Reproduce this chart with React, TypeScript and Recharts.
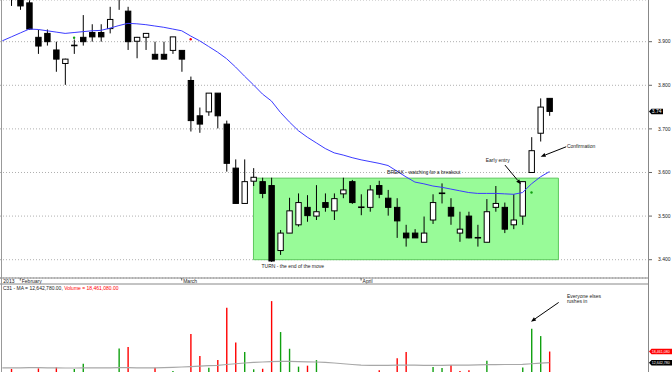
import React from 'react';
import {
  ComposedChart,
  Bar,
  Line,
  XAxis,
  YAxis,
  CartesianGrid,
  ReferenceArea,
  ReferenceLine,
  ReferenceDot,
  Cell,
} from 'recharts';

const FONT = '"Liberation Sans", Arial, sans-serif';
const RED = '#ff0000';
const GREEN = '#10a010';
const TEXT = '#222';

// daily candles, Feb - Apr 2013
const opens = [
  4.02, 4.0, 3.989, 3.91, 3.919, 3.881, 3.85, 3.891, 3.91, 3.921,
  3.921, 3.93, 4.0, 3.97, 3.901, 3.91, 3.871, 3.871, 3.88, 3.88,
  3.811, 3.73, 3.739, 3.782, 3.711, 3.61, 3.529, 3.58, 3.579, 3.57,
  3.421, 3.461, 3.48, 3.52, 3.5, 3.531, 3.512, 3.551, 3.579, 3.52,
  3.52, 3.57, 3.541, 3.52, 3.461, 3.461, 3.44, 3.491, 3.552, 3.52,
  3.461, 3.5, 3.45, 3.44, 3.52, 3.52, 3.48, 3.5, 3.6, 3.69, 3.77,
];
const highs = [
  4.03, 4.01, 3.995, 3.927, 3.928, 3.9, 3.861, 3.905, 3.961, 3.94,
  3.94, 3.98, 4.06, 3.98, 3.911, 3.92, 3.9, 3.9, 3.911, 3.88,
  3.82, 3.749, 3.782, 3.782, 3.719, 3.63, 3.63, 3.61, 3.588, 3.588,
  3.468, 3.542, 3.552, 3.548, 3.571, 3.552, 3.552, 3.588, 3.583, 3.55,
  3.571, 3.581, 3.56, 3.541, 3.48, 3.47, 3.499, 3.55, 3.575, 3.541,
  3.51, 3.51, 3.48, 3.539, 3.569, 3.531, 3.55, 3.579, 3.681, 3.77, 3.77,
];
const lows = [
  3.982, 3.973, 3.928, 3.872, 3.891, 3.831, 3.801, 3.872, 3.891, 3.9,
  3.9, 3.919, 3.973, 3.881, 3.862, 3.881, 3.86, 3.859, 3.872, 3.831,
  3.694, 3.691, 3.73, 3.701, 3.602, 3.529, 3.529, 3.569, 3.541, 3.395,
  3.411, 3.461, 3.476, 3.487, 3.491, 3.51, 3.491, 3.541, 3.528, 3.502,
  3.51, 3.541, 3.501, 3.45, 3.43, 3.45, 3.44, 3.482, 3.529, 3.48,
  3.441, 3.449, 3.43, 3.44, 3.51, 3.461, 3.47, 3.48, 3.6, 3.671, 3.73,
];
const closes = [
  4.0, 3.982, 3.929, 3.89, 3.9, 3.86, 3.86, 3.892, 3.9, 3.911,
  3.911, 3.951, 4.04, 3.9, 3.91, 3.919, 3.86, 3.86, 3.911, 3.86,
  3.719, 3.711, 3.782, 3.73, 3.621, 3.529, 3.579, 3.589, 3.552, 3.397,
  3.461, 3.512, 3.531, 3.501, 3.51, 3.52, 3.54, 3.56, 3.531, 3.521,
  3.56, 3.55, 3.52, 3.489, 3.45, 3.45, 3.461, 3.531, 3.553, 3.5,
  3.47, 3.45, 3.451, 3.51, 3.529, 3.47, 3.491, 3.579, 3.65, 3.75, 3.74,
];
// blue moving average (first value sits one day before the first candle)
const maLead = 3.902;
const priceMa = [
  3.911, 3.92, 3.929, 3.928, 3.925, 3.922, 3.919, 3.921, 3.923, 3.925,
  3.926, 3.931, 3.937, 3.942, 3.941, 3.939, 3.936, 3.933, 3.929, 3.925,
  3.913, 3.902, 3.889, 3.876, 3.861, 3.842, 3.821, 3.801, 3.78, 3.764,
  3.738, 3.716, 3.696, 3.681, 3.668, 3.655, 3.645, 3.64, 3.634, 3.629,
  3.625, 3.621, 3.616, 3.603, 3.59, 3.578, 3.574, 3.569, 3.566, 3.562,
  3.558, 3.554, 3.552, 3.552, 3.552, 3.551, 3.55, 3.554, 3.574, 3.59, 3.602,
];
// volume, millions
const volumes = [
  9.4, 6.5, 7.0, 9.7, 6.0, 10.2, 7.0, 9.4, 12.1, 6.5,
  6.0, 7.2, 20.1, 20.8, 7.0, 6.5, 10.0, 7.0, 8.3, 6.8,
  27.6, 16.1, 10.0, 14.0, 41.2, 23.2, 18.2, 9.2, 9.5, 44.7,
  28.6, 19.9, 10.6, 11.1, 14.0, 7.0, 6.5, 7.2, 6.8, 6.0,
  7.0, 8.7, 7.2, 14.9, 18.2, 6.5, 7.0, 10.4, 9.9, 11.4,
  8.3, 8.7, 6.5, 13.7, 7.0, 7.2, 6.8, 10.2, 30.3, 26.5, 18.46108,
];
const volumeDir = [
  'd', 'd', 'd', 'd', 'u', 'd', 'u', 'u', 'u', 'u',
  'u', 'u', 'u', 'd', 'u', 'u', 'd', 'd', 'u', 'd',
  'd', 'd', 'u', 'd', 'd', 'd', 'u', 'u', 'd', 'd',
  'u', 'u', 'u', 'd', 'u', 'u', 'u', 'u', 'd', 'd',
  'u', 'd', 'd', 'd', 'd', 'd', 'u', 'u', 'u', 'd',
  'd', 'd', 'u', 'u', 'u', 'd', 'u', 'u', 'u', 'u', 'd',
];
const volumeMaLead = 10.0;
const volumeMa = [
  10.0, 10.0, 10.1, 10.1, 10.0, 10.0, 9.9, 9.9, 10.0, 10.0,
  10.0, 10.0, 10.1, 10.1, 10.0, 10.0, 10.0, 10.1, 10.2, 10.4,
  10.6, 10.9, 11.1, 11.3, 11.7, 12.1, 12.5, 12.8, 13.0, 13.2,
  13.3, 13.3, 13.2, 13.1, 13.0, 12.8, 12.5, 12.1, 11.7, 11.4,
  11.3, 11.3, 11.3, 11.4, 11.4, 11.4, 11.3, 11.3, 11.3, 11.4,
  11.4, 11.4, 11.5, 11.6, 11.6, 11.7, 11.7, 11.8, 12.1, 12.4, 12.64278,
];

const dateTicks = [-1, 1, 19, 39];
const dateLabels = ['2013', 'February', 'March', 'April'];
const priceTicks = [3.4, 3.5, 3.6, 3.7, 3.8, 3.9];

const signals = [
  { i: 7, p: 3.909, color: GREEN },
  { i: 20, p: 3.9055, color: RED },
  { i: 58, p: 3.554, color: GREEN },
];
const rangeBox = { x1: 27, x2: 61, y1: 3.4, y2: 3.587 };
const priceNotes = [
  { i: 41.9, p: 3.6, text: 'BREAK - watching for a breakout' },
  { i: 27.9, p: 3.3855, text: 'TURN - the end of the move' },
  { i: 52.9, p: 3.627, text: 'Early entry' },
  { i: 61.95, p: 3.661, text: 'Confirmation' },
];
const priceArrows = [
  { from: [55.04, 3.617], to: [56.82, 3.573] },
  { from: [61.87, 3.659], to: [59.02, 3.636] },
];
const volumeNotes = [
  { i: 61.95, v: 47.3, text: 'Everyone elses' },
  { i: 61.95, v: 44.4, text: 'rushes in' },
];
const volumeArrows = [{ from: [61.03, 44.0], to: [57.94, 34.0] }];

const X_DOMAIN = [-1.26, 71.1];
const PRICE_DOMAIN = [3.358, 3.9956];
const VOLUME_DOMAIN = [0, 53.6];

const priceRows = [
  { i: -1, ma: maLead },
  ...opens.map((o, k) => ({ i: k, o, h: highs[k], l: lows[k], c: closes[k], ma: priceMa[k] })),
];
const volumeRows = [
  { i: -1, vma: volumeMaLead, dir: 'u' },
  ...volumes.map((v, k) => ({ i: k, v, vma: volumeMa[k], dir: volumeDir[k] })),
];

const fmtVol = (m: number, digits = 2) =>
  (m * 1e6).toLocaleString('en-US', { minimumFractionDigits: digits, maximumFractionDigits: digits });

function Candle(props: any) {
  const { x, y, width, height, payload } = props;
  if (!payload || payload.h == null || !isFinite(y) || !isFinite(height)) return null;
  const { o, h, l, c } = payload;
  const ppu = height / (h - l);
  const cx = x + width / 2;
  const top = y + (h - Math.max(o, c)) * ppu;
  const bot = y + (h - Math.min(o, c)) * ppu;
  return (
    <g>
      <line x1={cx} x2={cx} y1={y} y2={y + height} stroke="#000" strokeWidth={1} />
      <rect
        x={x}
        y={top}
        width={width}
        height={Math.max(bot - top, 0.6)}
        fill={c >= o ? '#fff' : '#000'}
        stroke="#000"
        strokeWidth={1}
      />
    </g>
  );
}

function DateTick(props: any) {
  const { x, y, payload } = props;
  const k = dateTicks.indexOf(payload.value);
  const first = k === 0;
  return (
    <g>
      {!first && <line x1={x} x2={x} y1={y} y2={y + 2.5} stroke="#444" strokeWidth={0.8} />}
      <text x={x + (first ? 1 : 1.5)} y={y + 3.4} dominantBaseline="central" fontSize={5} fontFamily={FONT} fill={TEXT}>
        {dateLabels[k]}
      </text>
    </g>
  );
}

function Tag(props: any) {
  const { viewBox, text, bg, color, w, fs = 5 } = props;
  const x = viewBox.x + viewBox.width;
  const y = viewBox.y;
  return (
    <g>
      <polygon
        points={`${x},${y} ${x + 2.5},${y - 2.8} ${x + w},${y - 2.8} ${x + w},${y + 2.8} ${x + 2.5},${y + 2.8}`}
        fill={bg}
      />
      <text x={x + 2.8} y={y} dominantBaseline="central" fontSize={fs} fontFamily={FONT} fill={color}>
        {text}
      </text>
    </g>
  );
}

function VolumeHeader(props: any) {
  const { viewBox } = props;
  return (
    <text x={viewBox.x + 1} y={viewBox.y} dominantBaseline="central" fontSize={5} fontFamily={FONT} fill={TEXT}>
      <tspan>{`C31 - MA = ${fmtVol(volumeMa[volumeMa.length - 1])}, `}</tspan>
      <tspan fill={RED}>{`Volume = ${fmtVol(volumes[volumes.length - 1])}`}</tspan>
    </text>
  );
}

const arrowShape = (props: any) => {
  const { x1, y1, x2, y2 } = props;
  const dx = x2 - x1;
  const dy = y2 - y1;
  const len = Math.hypot(dx, dy) || 1;
  const ux = dx / len;
  const uy = dy / len;
  const bx = x2 - ux * 5;
  const by = y2 - uy * 5;
  return (
    <g>
      <line x1={x1} y1={y1} x2={bx} y2={by} stroke="#000" strokeWidth={1} />
      <polygon points={`${x2},${y2} ${bx - uy * 2},${by + ux * 2} ${bx + uy * 2},${by - ux * 2}`} fill="#000" />
    </g>
  );
};

const noteLabel = (text: string) => ({
  value: text,
  position: 'right' as const,
  offset: 0,
  fontSize: 5,
  fill: TEXT,
  fontFamily: FONT,
});

export default function App() {
  return (
    <div
      style={{
        position: 'fixed',
        left: 0,
        top: 0,
        width: 672,
        height: 372,
        overflow: 'hidden',
        background: '#fff',
      }}
    >
      <div style={{ position: 'absolute', left: 0, top: 0 }}>
        <ComposedChart width={672} height={285} data={priceRows} margin={{ top: 0, right: 0, bottom: 0, left: 0 }}>
          <CartesianGrid vertical={false} stroke="#b0b0b0" strokeDasharray="1 2" />
          <XAxis
            dataKey="i"
            type="number"
            domain={X_DOMAIN}
            allowDataOverflow
            ticks={dateTicks}
            interval={0}
            height={7}
            tickSize={0}
            tickMargin={0}
            tickLine={false}
            axisLine={{ stroke: '#888' }}
            tick={<DateTick />}
          />
          <YAxis
            orientation="right"
            width={23}
            domain={PRICE_DOMAIN}
            allowDataOverflow
            ticks={priceTicks}
            interval={0}
            tickSize={3}
            tickMargin={6}
            axisLine={false}
            tickLine={{ stroke: '#666' }}
            tickFormatter={(v: number) => v.toFixed(3)}
            tick={{ fontSize: 5, fontFamily: FONT, fill: TEXT, textAnchor: 'start' }}
          />
          <ReferenceArea
            x1={rangeBox.x1}
            x2={rangeBox.x2}
            y1={rangeBox.y1}
            y2={rangeBox.y2}
            fill="#98fb98"
            fillOpacity={1}
            stroke="#5cc85c"
            strokeWidth={1}
            ifOverflow="visible"
          />
          <Bar
            dataKey={(d: any) => (d.h == null ? undefined : [d.l, d.h])}
            barSize={5.4}
            shape={<Candle />}
            isAnimationActive={false}
          />
          <Line
            dataKey="ma"
            type="linear"
            stroke="#3b3bff"
            strokeWidth={1}
            dot={false}
            activeDot={false}
            isAnimationActive={false}
          />
          {signals.map((s) => (
            <ReferenceDot key={`s${s.i}`} x={s.i} y={s.p} r={1.2} fill={s.color} stroke="none" ifOverflow="visible" />
          ))}
          {priceNotes.map((n) => (
            <ReferenceDot
              key={n.text}
              x={n.i}
              y={n.p}
              r={0}
              fill="none"
              stroke="none"
              ifOverflow="visible"
              label={noteLabel(n.text)}
            />
          ))}
          {priceArrows.map((a, k) => (
            <ReferenceLine
              key={`pa${k}`}
              segment={[
                { x: a.from[0], y: a.from[1] },
                { x: a.to[0], y: a.to[1] },
              ]}
              ifOverflow="visible"
              shape={arrowShape}
            />
          ))}
          <ReferenceLine
            y={closes[closes.length - 1]}
            stroke="none"
            ifOverflow="visible"
            label={<Tag text={closes[closes.length - 1].toFixed(2)} bg="#000" color="#fff" w={14} />}
          />
        </ComposedChart>
      </div>

      <div style={{ position: 'absolute', left: 0, top: 283 }}>
        <ComposedChart width={672} height={104} data={volumeRows} margin={{ top: 0, right: 0, bottom: 0, left: 0 }}>
          <XAxis
            dataKey="i"
            type="number"
            orientation="top"
            domain={X_DOMAIN}
            allowDataOverflow
            height={1}
            tick={false}
            tickLine={false}
            axisLine={{ stroke: '#888' }}
          />
          <YAxis
            orientation="right"
            width={23}
            domain={VOLUME_DOMAIN}
            allowDataOverflow
            tick={false}
            tickLine={false}
            axisLine={false}
          />
          <Bar dataKey="v" barSize={1.4} isAnimationActive={false}>
            {volumeRows.map((r) => (
              <Cell key={`v${r.i}`} fill={r.dir === 'u' ? GREEN : RED} />
            ))}
          </Bar>
          <Line
            dataKey="vma"
            type="linear"
            stroke="#a8a8a8"
            strokeWidth={1.2}
            dot={false}
            activeDot={false}
            isAnimationActive={false}
          />
          <ReferenceDot x={-1.05} y={51.7} r={0} fill="none" stroke="none" ifOverflow="visible" label={<VolumeHeader />} />
          {volumeNotes.map((n) => (
            <ReferenceDot
              key={n.text}
              x={n.i}
              y={n.v}
              r={0}
              fill="none"
              stroke="none"
              ifOverflow="visible"
              label={noteLabel(n.text)}
            />
          ))}
          {volumeArrows.map((a, k) => (
            <ReferenceLine
              key={`va${k}`}
              segment={[
                { x: a.from[0], y: a.from[1] },
                { x: a.to[0], y: a.to[1] },
              ]}
              ifOverflow="visible"
              shape={arrowShape}
            />
          ))}
          <ReferenceLine
            y={volumes[volumes.length - 1]}
            stroke="none"
            ifOverflow="visible"
            label={<Tag text={fmtVol(volumes[volumes.length - 1], 0)} bg={RED} color="#fff" w={30} fs={3.6} />}
          />
          <ReferenceLine
            y={volumeMa[volumeMa.length - 1]}
            stroke="none"
            ifOverflow="visible"
            label={<Tag text={fmtVol(volumeMa[volumeMa.length - 1], 0)} bg="#000" color="#fff" w={30} fs={3.6} />}
          />
        </ComposedChart>
      </div>

      <div style={{ position: 'absolute', left: 1, top: 0, width: 1, height: 372, background: '#999' }} />
      <div style={{ position: 'absolute', left: 648, top: 0, width: 1, height: 372, background: '#888' }} />
    </div>
  );
}
